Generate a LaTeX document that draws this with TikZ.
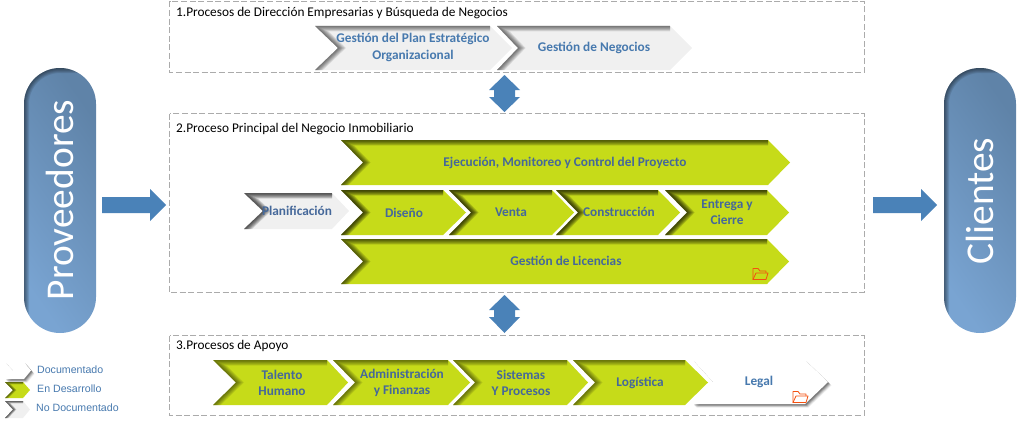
\documentclass[tikz,border=0pt]{standalone}
\usepackage{fontspec}
\setmainfont{Carlito}
\newfontfamily\legendfont{Liberation Sans}
\usetikzlibrary{shadings}
\definecolor{lime}{HTML}{C6DB19}
\definecolor{paleg}{HTML}{F0F0F0}
\definecolor{txtdark}{HTML}{45689A}
\definecolor{txtblue}{HTML}{4779AE}
\definecolor{arrowblue}{HTML}{4A82B8}
\definecolor{dashgray}{HTML}{ABABAB}
\definecolor{pilllight}{HTML}{79A4D2}
\definecolor{pilldark}{HTML}{5F83A8}
\definecolor{foldero}{HTML}{F4500F}
\newcommand\shs{1}
\tikzset{
  groupbox/.style={draw=dashgray,line width=1pt,dash pattern=on 6pt off 2.6pt},
  grouptitle/.style={anchor=west,inner sep=0pt,text=black,font=\fontsize{13.3}{15}\selectfont},
  steplabel/.style={inner sep=0pt,align=center,font=\bfseries\fontsize{13.3}{16.5}\selectfont,text=txtdark},
  paleLabel/.style={steplabel,text=txtblue},
  pillshape/.style={rounded corners=36pt,shading=axis,top color=pilllight,bottom color=pilldark,shading angle=125},
  pilltext/.style={inner sep=0pt,rotate=90,text=white,font=\fontsize{39.4}{41}\selectfont},
  blockarrow/.style={fill=arrowblue,draw=none},
  legendtext/.style={anchor=west,inner sep=0pt,text=txtblue,font=\legendfont\fontsize{10.6}{12}\selectfont},
  foldericon/.style={draw=foldero,line width=.8pt,line join=round},
}
% #1 fill #2 left #3 notch #4 shoulder #5 tip #6 top #7 bottom #8 shadow opacity
\newcommand\chevin[8]{%
  \fill[#1] (#2,#6) -- (#4,#6) -- (#5,{(#6+#7)/2}) -- (#4,#7) -- (#2,#7) -- (#3,{(#6+#7)/2}) -- cycle;
  \begin{scope}
    \clip (#2,#6) -- (#4,#6) -- (#5,{(#6+#7)/2}) -- (#4,#7) -- (#2,#7) -- (#3,{(#6+#7)/2}) -- cycle;
    \foreach \w in {11,9.5,8,6.5,5,3.5,2}
      \draw[black,opacity=#8,line width=\shs*\w pt,line join=miter]
        (#2,#7) -- (#3,{(#6+#7)/2}) -- (#2,#6) -- (#4,#6);
  \end{scope}}
% outer-shadow white chevron: #1 left #2 notch #3 shoulder #4 tip #5 top #6 bottom
\newcommand\chevout[6]{%
  \foreach \s/\o in {3.5/.06,3/.08,2.5/.1,2/.12,1.5/.14,1/.16}
    \fill[black,opacity=\o,shift={(\s pt,-\s pt)}] (#1,#5) -- (#3,#5) -- (#4,{(#5+#6)/2}) -- (#3,#6) -- (#1,#6) -- (#2,{(#5+#6)/2}) -- cycle;
  \fill[white] (#1,#5) -- (#3,#5) -- (#4,{(#5+#6)/2}) -- (#3,#6) -- (#1,#6) -- (#2,{(#5+#6)/2}) -- cycle;}
\newcommand\pillinner[4]{%
  \begin{scope}
    \clip[rounded corners=36pt] (#1,#2) rectangle (#3,#4);
    \foreach \w in {10,8,6,4,2}
      \draw[black,opacity=.1,line width=\w pt,rounded corners=36pt] (#1,#4) -- (#1,#2) -- (#3,#2);
  \end{scope}}
\newcommand\folder[2]{%
  \draw[foldericon] (#1,#2+11) -- (#1,#2) -- (#1+5,#2) -- (#1+7,#2+2.5) -- (#1+13,#2+2.5) -- (#1+13,#2+4.5);
  \draw[foldericon] (#1,#2+11) -- (#1+3,#2+4.5) -- (#1+15,#2+4.5) -- (#1+13,#2+11) -- cycle;}
\begin{document}
\begin{tikzpicture}[x=1pt,y=-1pt]
\useasboundingbox (0,0) rectangle (1024,420);
% group boxes
\draw[groupbox] (169.5,1.5) rectangle (864,72.5);
\draw[groupbox] (169.5,113.5) rectangle (864,292.5);
\draw[groupbox] (169.5,335.5) rectangle (864,415.5);
\node[grouptitle] (t1) at (176,13) {1.Procesos de Dirección Empresarias y Búsqueda de Negocios};
\node[grouptitle] (t2) at (176,129) {2.Proceso Principal del Negocio Inmobiliario};
\node[grouptitle] (t3) at (176,346) {3.Procesos de Apoyo};
% pills
\shade[pillshape] (24,68) rectangle (96,333);
\pillinner{24}{68}{96}{333}
\node[pilltext] (prov) at (60,200) {Proveedores};
\shade[pillshape] (944,68) rectangle (1016,333);
\pillinner{944}{68}{1016}{333}
\node[pilltext] (cli) at (980,201) {Clientes};
% block arrows
\fill[blockarrow] (102,197) -- (150,197) -- (150,189) -- (166,205) -- (150,221) -- (150,213) -- (102,213) -- cycle;
\fill[blockarrow] (873,197) -- (921,197) -- (921,189) -- (937,205) -- (921,221) -- (921,213) -- (873,213) -- cycle;
\fill[blockarrow] (504.5,75) -- (520,90) -- (515,90) -- (515,97) -- (520,97) -- (504.5,112) -- (489,97) -- (494,97) -- (494,90) -- (489,90) -- cycle;
\fill[blockarrow] (504.5,295) -- (520,310) -- (515,310) -- (515,317) -- (520,317) -- (504.5,333) -- (489,317) -- (494,317) -- (494,310) -- (489,310) -- cycle;
% box 1
\chevin{paleg}{315}{338}{490}{512}{26}{70}{.09}
\chevin{paleg}{497}{518}{670}{692}{26}{70}{.09}
\node[paleLabel] (n1) at (413,47.5) {Gestión del Plan Estratégico\\Organizacional};
\node[paleLabel] (n2) at (594,48) {Gestión de Negocios};
% box 2
\chevin{lime}{341}{363}{768}{790}{140}{185}{.11}
\node[steplabel] (n3) at (565,163) {Ejecución, Monitoreo y Control del Proyecto};
\chevin{paleg}{244}{263}{332}{349}{193}{229}{.13}
\node[steplabel] (n4) at (297,211) {Planificación};
\chevin{lime}{341}{363}{443}{466}{190}{235}{.14}
\node[steplabel] (n5) at (404,213) {Diseño};
\chevin{lime}{449}{471}{552}{574}{190}{235}{.14}
\node[steplabel] (n6) at (511,212) {Venta};
\chevin{lime}{556}{578}{658}{680}{190}{235}{.14}
\node[steplabel] (n7) at (619,212) {Construcción};
\chevin{lime}{665}{687}{767}{789}{190}{235}{.14}
\node[steplabel] (n8) at (727,212) {Entrega y\\Cierre};
\chevin{lime}{341}{363}{767}{789}{239}{284}{.11}
\node[steplabel] (n9) at (566,261) {Gestión de Licencias};
\folder{753}{268.5}
% box 3
\chevin{lime}{213}{236}{327}{348}{360}{405}{.08}
\node[steplabel] (n10) at (282,383) {Talento\\Humano};
\chevin{lime}{333}{355}{448}{470}{360}{405}{.08}
\node[steplabel] (n11) at (402,383) {Administración\\y Finanzas};
\chevin{lime}{453}{475}{567}{588}{360}{405}{.08}
\node[steplabel] (n12) at (521,383) {Sistemas\\Y Procesos};
\chevin{lime}{573}{595}{685}{708}{360}{405}{.08}
\node[steplabel] (n13) at (640,383) {Logística};
\chevout{693}{713}{805}{828}{360}{404}
\node[paleLabel] (n14) at (759,382) {Legal};
\folder{793}{391.5}
% legend
\renewcommand\shs{.45}
\chevout{5}{13}{24}{31}{362}{379}
\chevin{lime}{5}{13}{23}{30}{382}{398}{.1}
\chevin{paleg}{5}{13}{23}{30}{401}{418}{.12}
\node[legendtext] (l1) at (37,370) {Documentado};
\node[legendtext] (l2) at (37,389) {En Desarrollo};
\node[legendtext] (l3) at (36,408) {No Documentado};
\end{tikzpicture}
\end{document}
